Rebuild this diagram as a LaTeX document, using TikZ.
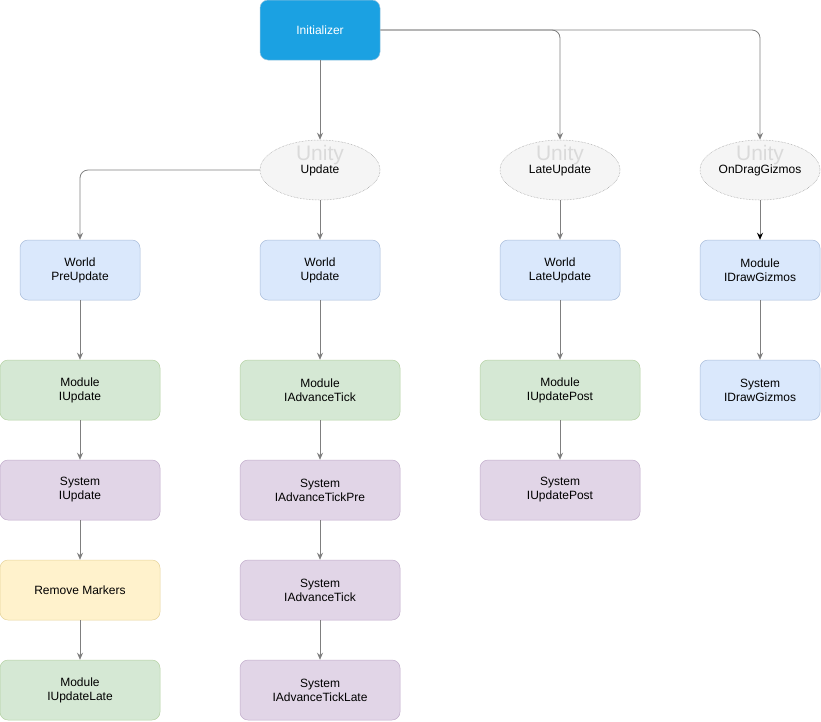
\documentclass[tikz,border=0pt]{standalone}
\usepackage{fontspec}
\setmainfont{Liberation Sans}
\usetikzlibrary{shapes,arrows.meta}

\definecolor{initfill}{HTML}{1BA1E2}
\definecolor{initline}{HTML}{006EAF}
\definecolor{bluefill}{HTML}{DAE8FC}
\definecolor{blueline}{HTML}{6C8EBF}
\definecolor{greenfill}{HTML}{D5E8D4}
\definecolor{greenline}{HTML}{82B366}
\definecolor{purplefill}{HTML}{E1D5E7}
\definecolor{purpleline}{HTML}{9673A6}
\definecolor{yellowfill}{HTML}{FFF2CC}
\definecolor{yellowline}{HTML}{D6B656}
\definecolor{ellfill}{HTML}{F5F5F5}
\definecolor{ellline}{HTML}{666666}
\definecolor{edgegray}{HTML}{7F7F7F}
\definecolor{unitygray}{HTML}{DADADA}

\tikzset{
  box/.style={rectangle, rounded corners=8pt, minimum height=60pt, align=center,
    line width=0.5pt, font=\fontsize{12}{14}\selectfont, inner sep=0pt},
  small/.style={box, minimum width=120pt},
  wide/.style={box, minimum width=160pt},
  initbox/.style={small, fill=initfill, draw=initline!40, text=white},
  bluebox/.style={fill=bluefill, draw=blueline!60},
  greenbox/.style={fill=greenfill, draw=greenline!60},
  purplebox/.style={fill=purplefill, draw=purpleline!60},
  yellowbox/.style={fill=yellowfill, draw=yellowline!60},
  unityell/.style={ellipse, minimum width=120pt, minimum height=60pt, inner sep=0pt,
    fill=ellfill, draw=ellline!70, densely dotted, line width=0.5pt,
    font=\fontsize{12}{14}\selectfont},
  unitytxt/.style={text=unitygray, font=\fontsize{21}{21}\selectfont, inner sep=0pt},
  conn/.style={draw=edgegray, line width=0.8pt, -{Stealth[length=7pt,width=6pt]}},
}

\begin{document}
\begin{tikzpicture}[x=1pt, y=-1pt]
\useasboundingbox (0,0) rectangle (821,721);

% top
\node [initbox] (init) at (320,30) {Initializer};

% unity callbacks
\node [unityell] (upd) at (320,170) {};
\node [unityell] (late) at (560,170) {};
\node [unityell] (gizmo) at (760,170) {};
\node [unitytxt] (updU) at (320,155) {Unity};
\node [unitytxt] (lateU) at (560,155) {Unity};
\node [unitytxt] (gizmoU) at (760,155) {Unity};
\node [font=\fontsize{12}{14}\selectfont] (updT) at (320,170) {Update};
\node [font=\fontsize{12}{14}\selectfont] (lateT) at (560,170) {LateUpdate};
\node [font=\fontsize{12}{14}\selectfont] (gizmoT) at (760,170) {OnDragGizmos};

% world row
\node [small, bluebox] (wpre) at (80,270) {World\\PreUpdate};
\node [small, bluebox] (wupd) at (320,270) {World\\Update};
\node [small, bluebox] (wlate) at (560,270) {World\\LateUpdate};
\node [small, bluebox] (mgiz) at (760,270) {Module\\IDrawGizmos};

% module row
\node [wide, greenbox] (mupd) at (80,390) {Module\\IUpdate};
\node [wide, greenbox] (mtick) at (320,390) {Module\\IAdvanceTick};
\node [wide, greenbox] (mpost) at (560,390) {Module\\IUpdatePost};
\node [small, bluebox] (sgiz) at (760,390) {System\\IDrawGizmos};

% system row
\node [wide, purplebox] (supd) at (80,490) {System\\IUpdate};
\node [wide, purplebox] (stpre) at (320,490) {System\\IAdvanceTickPre};
\node [wide, purplebox] (spost) at (560,490) {System\\IUpdatePost};

\node [wide, yellowbox] (rmark) at (80,590) {Remove Markers};
\node [wide, purplebox] (stick) at (320,590) {System\\IAdvanceTick};

\node [wide, greenbox] (mlate) at (80,690) {Module\\IUpdateLate};
\node [wide, purplebox] (stlate) at (320,690) {System\\IAdvanceTickLate};

% connectors
\draw [conn] (init) -- (upd);
\draw [conn, rounded corners=8pt] (init.east) -| (late.north);
\draw [conn, rounded corners=8pt] (init.east) -| (gizmo.north);
\draw [conn, rounded corners=8pt] (upd.west) -| (wpre.north);
\draw [conn] (upd) -- (wupd);
\draw [conn] (late) -- (wlate);
\draw [conn, -{Stealth[length=7pt,width=6pt,black]}] (gizmo) -- (mgiz);

\draw [conn] (wpre) -- (mupd);
\draw [conn] (mupd) -- (supd);
\draw [conn] (supd) -- (rmark);
\draw [conn] (rmark) -- (mlate);

\draw [conn] (wupd) -- (mtick);
\draw [conn] (mtick) -- (stpre);
\draw [conn] (stpre) -- (stick);
\draw [conn] (stick) -- (stlate);

\draw [conn] (wlate) -- (mpost);
\draw [conn] (mpost) -- (spost);

\draw [conn] (mgiz) -- (sgiz);
\end{tikzpicture}
\end{document}
